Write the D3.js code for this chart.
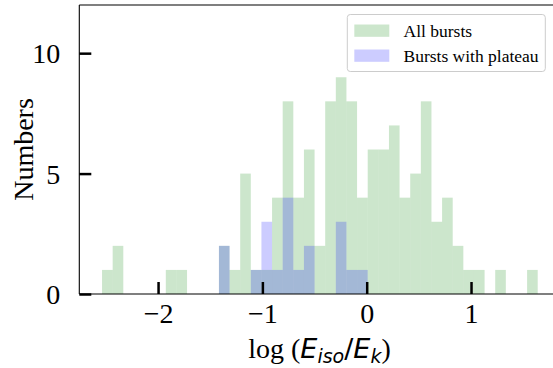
<!DOCTYPE html>
<html>
<head>
<meta charset="utf-8">
<script src="https://cdn.jsdelivr.net/npm/d3@7"></script>
<style>
  html, body { margin: 0; padding: 0; background: #ffffff; }
  svg { display: block; }
</style>
</head>
<body>
<svg id="chart" width="553" height="368"></svg>
<script>
// ---- data ----
const binStart = -2.537;          // left edge of first bin (log Eiso/Ek)
const binWidth = 0.10186;         // bin width
const allBursts = [1, 2, 0, 0, 0, 0, 1, 1, 0, 0, 0, 2, 1, 5, 1, 1, 4, 8, 4, 6, 2,
                   8, 9, 8, 4, 6, 6, 7, 4, 5, 8, 3, 4, 2, 1, 1, 0, 1, 0, 0, 1];
const plateauBursts = [0, 0, 0, 0, 0, 0, 0, 0, 0, 0, 0, 2, 0, 0, 1, 3, 1, 4, 1, 2, 0,
                       0, 3, 1, 1, 0, 0, 0, 0, 0, 0, 0, 0, 0, 0, 0, 0, 0, 0, 0, 0];
const xTicks = [-2, -1, 0, 1];
const yTicks = [0, 5, 10];
const seriesNames = ["All bursts", "Bursts with plateau"];

// ---- layout ----
const svg = d3.select("#chart");
const pL = 79.3, pR = 559.7, pT = 5, pB = 294;
const x = d3.scaleLinear().domain([-2.755, 1.85]).range([pL, pR]);
const y = d3.scaleLinear().domain([0, 12]).range([pB, pT]);
const serif = "'Liberation Serif', 'Times New Roman', serif";
const sans = "'DejaVu Sans', sans-serif";

svg.append("rect").attr("width", 553).attr("height", 368).attr("fill", "#fff");

function drawHist(counts, color) {
  const bins = counts.map((c, i) => ({x0: binStart + i * binWidth, x1: binStart + (i + 1) * binWidth, c}))
                     .filter(d => d.c > 0);
  svg.append("g").selectAll("rect").data(bins).join("rect")
    .attr("x", d => x(d.x0))
    .attr("width", d => x(d.x1) - x(d.x0))
    .attr("y", d => y(d.c))
    .attr("height", d => y(0) - y(d.c))
    .attr("fill", color)
    .attr("fill-opacity", 0.2);
}
drawHist(allBursts, "#008000");
drawHist(plateauBursts, "#0000ff");

// spines
const sp = svg.append("g").attr("stroke", "#000").attr("stroke-width", 1.1).attr("fill", "none");
sp.append("line").attr("x1", pL).attr("x2", pL).attr("y1", pT).attr("y2", pB);
sp.append("line").attr("x1", pL).attr("x2", pR).attr("y1", pB).attr("y2", pB);
sp.append("line").attr("x1", pL).attr("x2", pR).attr("y1", pT).attr("y2", pT);
sp.append("line").attr("x1", pR).attr("x2", pR).attr("y1", pT).attr("y2", pB);

// x axis (ticks inward)
const xAxis = d3.axisBottom(x).tickValues(xTicks).tickSizeInner(-12).tickSizeOuter(0)
  .tickPadding(19).tickFormat(d => d < 0 ? "\u2212" + Math.abs(d) : String(d));
const gx = svg.append("g").attr("transform", `translate(0,${pB})`).call(xAxis);
gx.select(".domain").remove();
gx.selectAll(".tick line").attr("stroke", "#000").attr("stroke-width", 2.5);
gx.selectAll(".tick text").attr("font-family", serif).attr("font-size", 28).attr("fill", "#000")
  .attr("dy", "0.35em");

// y axis (ticks inward)
const yAxis = d3.axisLeft(y).tickValues(yTicks).tickSizeInner(-12).tickSizeOuter(0)
  .tickPadding(19).tickFormat(d3.format("d"));
const gy = svg.append("g").attr("transform", `translate(${pL},0)`).call(yAxis);
gy.select(".domain").remove();
gy.selectAll(".tick line").attr("stroke", "#000").attr("stroke-width", 2.5);
gy.selectAll(".tick text").attr("font-family", serif).attr("font-size", 28).attr("fill", "#000")
  .attr("dy", "0.34em");

// axis labels
svg.append("text").attr("transform", "translate(33,149.5) rotate(-90)")
  .attr("text-anchor", "middle").attr("font-family", serif).attr("font-size", 28).text("Numbers");

const xl = svg.append("text").attr("x", (pL + pR) / 2).attr("y", 358)
  .attr("text-anchor", "middle").attr("font-size", 28).attr("fill", "#000");
xl.append("tspan").attr("font-family", serif).text("log (");
xl.append("tspan").attr("font-family", sans).attr("font-style", "italic").attr("font-size", 27).text("E");
xl.append("tspan").attr("font-family", sans).attr("font-style", "italic").attr("font-size", 19).attr("dy", 5).text("iso");
xl.append("tspan").attr("font-family", sans).attr("font-size", 27).attr("dy", -5).text("/");
xl.append("tspan").attr("font-family", sans).attr("font-style", "italic").attr("font-size", 27).text("E");
xl.append("tspan").attr("font-family", sans).attr("font-style", "italic").attr("font-size", 19).attr("dy", 5).text("k");
xl.append("tspan").attr("font-family", serif).attr("dy", -5).text(")");

// legend
const lg = svg.append("g");
lg.append("rect").attr("x", 347.3).attr("y", 14.5).attr("width", 198).attr("height", 57)
  .attr("rx", 3).attr("fill", "#fff").attr("fill-opacity", 0.8)
  .attr("stroke", "#cccccc").attr("stroke-width", 1);
const legColors = ["#008000", "#0000ff"];
seriesNames.forEach((name, i) => {
  const yy = 24.5 + i * 25;
  lg.append("rect").attr("x", 354.3).attr("y", yy).attr("width", 35).attr("height", 12.3)
    .attr("fill", legColors[i]).attr("fill-opacity", 0.2);
  lg.append("text").attr("x", 403.5).attr("y", yy + 12.5).attr("font-family", serif)
    .attr("font-size", 17.5).attr("fill", "#000").text(name);
});
</script>
</body>
</html>
